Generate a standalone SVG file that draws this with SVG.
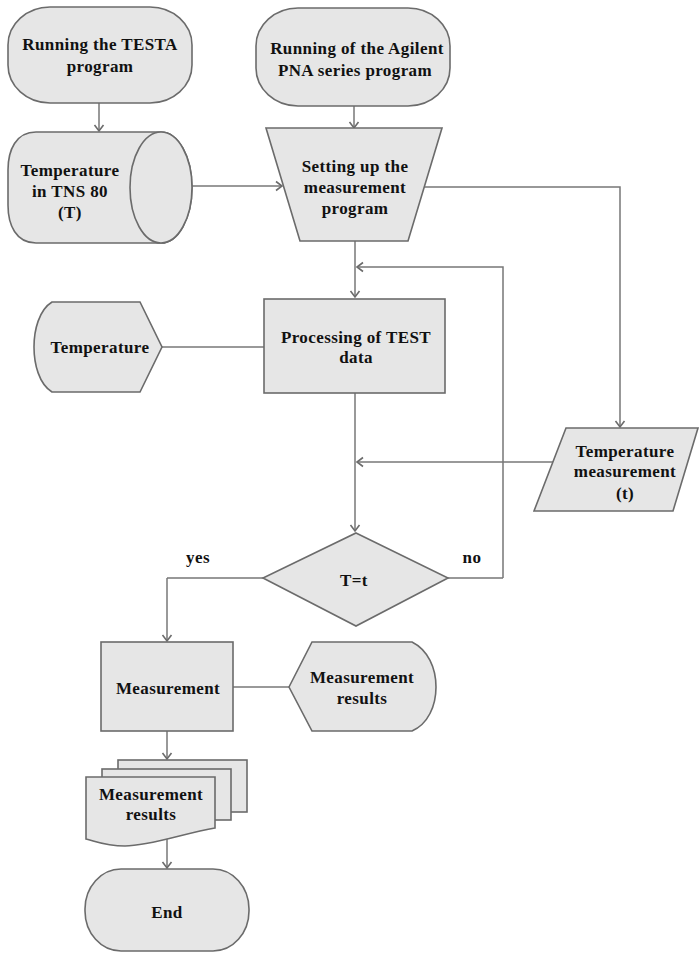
<svg xmlns="http://www.w3.org/2000/svg" width="699" height="953" viewBox="0 0 699 953">
<style>
.s{fill:#e6e6e6;stroke:#6b6b6b;stroke-width:1.6}
.c{fill:none;stroke:#777;stroke-width:1.5}
.d{fill:none;stroke:#333;stroke-width:1.1}
text{font-family:"Liberation Serif","Times New Roman",serif;font-weight:bold;font-size:17px;letter-spacing:0.4px;fill:#111;text-anchor:middle;dominant-baseline:central}
</style>
<defs>
<marker id="arr" viewBox="-8 -6 10 12" markerWidth="10" markerHeight="12" refX="0" refY="0" orient="auto" markerUnits="userSpaceOnUse">
<path d="M-6,-4.5 L0,0 L-6,4.5" fill="none" stroke="#6b6b6b" stroke-width="1.6"/>
</marker>
</defs>
<rect width="699" height="953" fill="#fff"/>
<g id="connectors">
<path class="c" d="M99,103 V131" marker-end="url(#arr)"/>
<path class="c" d="M354,106 V128" marker-end="url(#arr)"/>
<path class="c" d="M192,186 H282" marker-end="url(#arr)"/>
<path class="c" d="M424,187 H620 V427" marker-end="url(#arr)"/>
<path class="c" d="M355,241 V297" marker-end="url(#arr)"/>
<path class="d" d="M448,578 H503"/>
<path class="c" d="M503,578 V267 H357" marker-end="url(#arr)"/>
<path class="c" d="M553,462 H357" marker-end="url(#arr)"/>
<path class="c" d="M162,347 H264"/>
<path class="c" d="M355,393 V531" marker-end="url(#arr)"/>
<path class="d" d="M263,578 H167"/>
<path class="c" d="M167,578 V641" marker-end="url(#arr)"/>
<path class="c" d="M233,687 H289"/>
<path class="c" d="M167,731 V759" marker-end="url(#arr)"/>
<path class="c" d="M167,838 V868" marker-end="url(#arr)"/>
</g>
<g id="start-testa">
<rect class="s" x="8" y="7" width="184" height="96" rx="42" ry="38"/>
<text x="100" y="44">Running the TESTA</text>
<text x="100" y="66">program</text>
</g>
<g id="start-agilent">
<rect class="s" x="256" y="8" width="194" height="98" rx="42" ry="38"/>
<text x="357" y="48">Running of the Agilent</text>
<text x="355" y="70">PNA series program</text>
</g>
<g id="temp-tns">
<path class="s" d="M36,132 H161 A31,55.5 0 0 1 161,243 H36 C16,243 8,225 8,205 V170 C8,150 16,132 36,132 Z"/>
<ellipse class="s" cx="161" cy="187.5" rx="31" ry="55.5"/>
<text x="70" y="170">Temperature</text>
<text x="70" y="191">in TNS 80</text>
<text x="70" y="212">(T)</text>
</g>
<g id="setup">
<polygon class="s" points="266,128 442,128 408,241 300,241"/>
<text x="355" y="166">Setting up the</text>
<text x="355" y="187">measurement</text>
<text x="355" y="208">program</text>
</g>
<g id="temp-display">
<path class="s" d="M52,302 H140 L162,347 L140,392 H52 C39,384 34,364 34,347 C34,330 39,310 52,302 Z"/>
<text x="100" y="347">Temperature</text>
</g>
<g id="processing">
<rect class="s" x="264" y="299" width="181" height="94"/>
<text x="356" y="337">Processing of TEST</text>
<text x="356" y="357">data</text>
</g>
<g id="temp-measurement">
<polygon class="s" points="566,428 698,428 673,511 534,511"/>
<text x="625" y="451">Temperature</text>
<text x="625" y="471">measurement</text>
<text x="625" y="493">(t)</text>
</g>
<g id="decision">
<polygon class="s" points="356,533 448,578 356,626 263,578"/>
<text x="354" y="580">T=t</text>
</g>
<text x="198" y="557">yes</text>
<text x="472" y="557">no</text>
<g id="measurement">
<rect class="s" x="101" y="642" width="132" height="89"/>
<text x="168" y="688">Measurement</text>
</g>
<g id="results-display">
<path class="s" d="M289,687 L312,642 H412 C428,650 436,668 436,687 C436,706 428,724 412,731 H312 Z"/>
<text x="362" y="677">Measurement</text>
<text x="362" y="698">results</text>
</g>
<g id="results-docs">
<rect class="s" x="118" y="760" width="129" height="52"/>
<rect class="s" x="102" y="769" width="129" height="51"/>
<path class="s" d="M86,777 H215 V828 C185,833 150,846 125,846 C105,846 95,841 86,839 Z"/>
<text x="151" y="794">Measurement</text>
<text x="151" y="814">results</text>
</g>
<g id="end">
<rect class="s" x="85" y="869" width="164" height="82" rx="36" ry="40"/>
<text x="167" y="912">End</text>
</g>
</svg>
